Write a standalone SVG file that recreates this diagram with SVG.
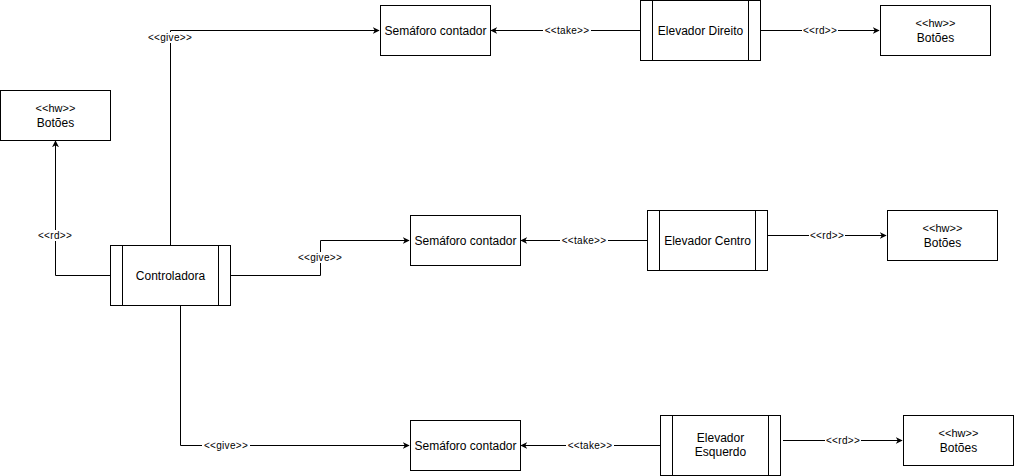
<svg xmlns="http://www.w3.org/2000/svg" width="1014" height="476" viewBox="0 0 1014 476">
  <style>
    .box { fill: #ffffff; stroke: #000000; stroke-width: 1; }
    .bar { stroke: #000000; stroke-width: 1; }
    .txt { font-family: "Liberation Sans", Arial, sans-serif; font-size: 12px; fill: #000000; text-anchor: middle; }
    .hw { font-family: "Liberation Sans", Arial, sans-serif; font-size: 11px; fill: #000000; text-anchor: middle; }
    .edge { fill: none; stroke: #000000; stroke-width: 1; }
    .lbl { font-family: "Liberation Sans", Arial, sans-serif; font-size: 10px; letter-spacing: 0.3px; fill: #000000; text-anchor: middle; }
    .lblbg { fill: #ffffff; }
  </style>
  <defs>
    <marker id="arrow" viewBox="0 0 10 10" refX="9" refY="5" markerWidth="7" markerHeight="7" markerUnits="userSpaceOnUse" orient="auto">
      <path d="M0,0 L10,5 L0,10 L3,5 Z" fill="#000000"/>
    </marker>
  </defs>
  <rect width="1014" height="476" fill="#ffffff"/>

  <g id="connectors">
    <!-- Controladora to the top semaphore -->
    <path class="edge" d="M170.5,245 V30.5 H379" marker-end="url(#arrow)"/>
    <rect class="lblbg" x="146" y="32" width="48" height="11"/>
    <text class="lbl" x="170" y="40.5">&lt;&lt;give&gt;&gt;</text>
    <!-- Controladora reads its buttons -->
    <path class="edge" d="M110,275.5 H55.5 V141" marker-end="url(#arrow)"/>
    <rect class="lblbg" x="36" y="230" width="38" height="11"/>
    <text class="lbl" x="55" y="238.5">&lt;&lt;rd&gt;&gt;</text>
    <!-- Controladora to the middle semaphore -->
    <path class="edge" d="M230,275.5 H320.5 V240.5 H409" marker-end="url(#arrow)"/>
    <rect class="lblbg" x="296" y="252" width="49" height="11"/>
    <text class="lbl" x="320" y="260.5">&lt;&lt;give&gt;&gt;</text>
    <!-- Controladora to the bottom semaphore -->
    <path class="edge" d="M180.5,305 V445.5 H409" marker-end="url(#arrow)"/>
    <rect class="lblbg" x="202" y="440" width="48" height="11"/>
    <text class="lbl" x="226" y="448.5">&lt;&lt;give&gt;&gt;</text>

    <!-- Elevador Direito -->
    <path class="edge" d="M640,30.5 H491" marker-end="url(#arrow)"/>
    <rect class="lblbg" x="543" y="25" width="48" height="11"/>
    <text class="lbl" x="567" y="33.5">&lt;&lt;take&gt;&gt;</text>
    <path class="edge" d="M760,30.5 H879" marker-end="url(#arrow)"/>
    <rect class="lblbg" x="802" y="25" width="36" height="11"/>
    <text class="lbl" x="820" y="33.5">&lt;&lt;rd&gt;&gt;</text>

    <!-- Elevador Centro -->
    <path class="edge" d="M647,240.5 H521" marker-end="url(#arrow)"/>
    <rect class="lblbg" x="560" y="235" width="48" height="11"/>
    <text class="lbl" x="584" y="243.5">&lt;&lt;take&gt;&gt;</text>
    <path class="edge" d="M767,235.5 H886" marker-end="url(#arrow)"/>
    <rect class="lblbg" x="809" y="230" width="36" height="11"/>
    <text class="lbl" x="827" y="238.5">&lt;&lt;rd&gt;&gt;</text>

    <!-- Elevador Esquerdo -->
    <path class="edge" d="M660,445.5 H521" marker-end="url(#arrow)"/>
    <rect class="lblbg" x="566" y="440" width="48" height="11"/>
    <text class="lbl" x="590" y="448.5">&lt;&lt;take&gt;&gt;</text>
    <path class="edge" d="M783,440.5 H902" marker-end="url(#arrow)"/>
    <rect class="lblbg" x="825" y="435" width="36" height="11"/>
    <text class="lbl" x="843" y="443.5">&lt;&lt;rd&gt;&gt;</text>
  </g>

  <g id="semaforo-direito">
    <rect class="box" x="380.5" y="5.5" width="110" height="50"/>
    <text class="txt" x="435.5" y="35">Semáforo contador</text>
  </g>
  <g id="elevador-direito">
    <rect class="box" x="640.5" y="0.5" width="120" height="60"/>
    <line class="bar" x1="652.5" y1="0.5" x2="652.5" y2="60.5"/>
    <line class="bar" x1="748.5" y1="0.5" x2="748.5" y2="60.5"/>
    <text class="txt" x="700.5" y="35">Elevador Direito</text>
  </g>
  <g id="botoes-direito">
    <rect class="box" x="880.5" y="5.5" width="110" height="50"/>
    <text class="hw" x="935.5" y="27">&lt;&lt;hw&gt;&gt;</text>
    <text class="txt" x="935.5" y="42">Botões</text>
  </g>

  <g id="botoes-controladora">
    <rect class="box" x="0.5" y="90.5" width="110" height="50"/>
    <text class="hw" x="55.5" y="112">&lt;&lt;hw&gt;&gt;</text>
    <text class="txt" x="55.5" y="127">Botões</text>
  </g>
  <g id="controladora">
    <rect class="box" x="110.5" y="245.5" width="120" height="60"/>
    <line class="bar" x1="122.5" y1="245.5" x2="122.5" y2="305.5"/>
    <line class="bar" x1="218.5" y1="245.5" x2="218.5" y2="305.5"/>
    <text class="txt" x="170.5" y="280">Controladora</text>
  </g>

  <g id="semaforo-centro">
    <rect class="box" x="410.5" y="215.5" width="110" height="50"/>
    <text class="txt" x="465.5" y="245">Semáforo contador</text>
  </g>
  <g id="elevador-centro">
    <rect class="box" x="647.5" y="210.5" width="120" height="60"/>
    <line class="bar" x1="659.5" y1="210.5" x2="659.5" y2="270.5"/>
    <line class="bar" x1="755.5" y1="210.5" x2="755.5" y2="270.5"/>
    <text class="txt" x="707.5" y="245">Elevador Centro</text>
  </g>
  <g id="botoes-centro">
    <rect class="box" x="887.5" y="210.5" width="110" height="50"/>
    <text class="hw" x="942.5" y="232">&lt;&lt;hw&gt;&gt;</text>
    <text class="txt" x="942.5" y="247">Botões</text>
  </g>

  <g id="semaforo-esquerdo">
    <rect class="box" x="410.5" y="420.5" width="110" height="50"/>
    <text class="txt" x="465.5" y="450">Semáforo contador</text>
  </g>
  <g id="elevador-esquerdo">
    <rect class="box" x="660.5" y="415.5" width="120" height="60"/>
    <line class="bar" x1="672.5" y1="415.5" x2="672.5" y2="475.5"/>
    <line class="bar" x1="768.5" y1="415.5" x2="768.5" y2="475.5"/>
    <text class="txt" x="720.5" y="442">Elevador</text>
    <text class="txt" x="720.5" y="456">Esquerdo</text>
  </g>
  <g id="botoes-esquerdo">
    <rect class="box" x="903.5" y="415.5" width="110" height="50"/>
    <text class="hw" x="958.5" y="437">&lt;&lt;hw&gt;&gt;</text>
    <text class="txt" x="958.5" y="452">Botões</text>
  </g>
</svg>
